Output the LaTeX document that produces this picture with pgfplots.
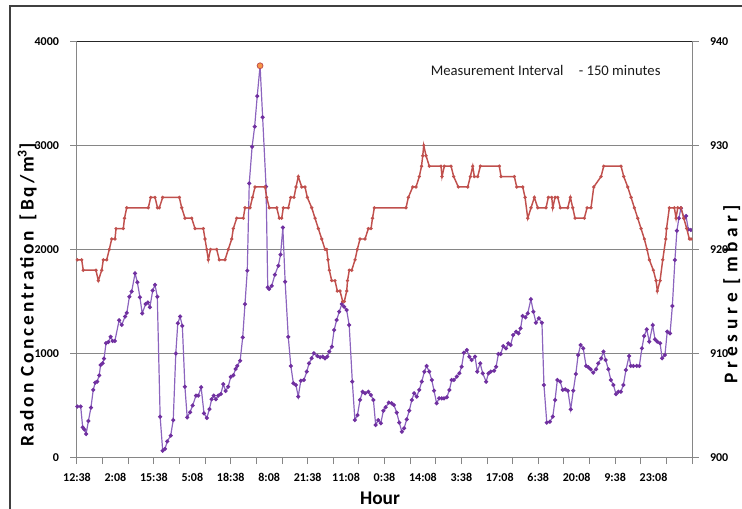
\documentclass[border=0pt]{standalone}
\usepackage{pgfplots}
\pgfplotsset{compat=1.18}
\usepackage{fontspec}
\setmainfont{Carlito}
\definecolor{gridgray}{RGB}{134,134,134}
\definecolor{radonline}{RGB}{140,100,190}
\definecolor{radonmark}{RGB}{112,48,160}
\definecolor{presred}{RGB}{192,80,77}
\definecolor{framegray}{RGB}{64,64,64}
\definecolor{peakorange}{RGB}{247,150,70}

\pgfplotsset{
  commonaxis/.style={
    scale only axis, width=461.25pt, height=312.15pt,
    at={(0,0)}, anchor=south west,
    xmin=0, xmax=216,
    tick align=outside,
    major tick length=5pt,
    tick style={gridgray, line width=0.75pt},
    axis line style={gridgray, line width=0.75pt},
    ticklabel style={font=\fontsize{9}{10}\selectfont\bfseries, text=black},
    /pgf/number format/assume math mode=true,
  }
}

\begin{document}
\begin{tikzpicture}
\begin{axis}[commonaxis,
  ymin=0, ymax=4000,
  axis x line*=bottom, axis y line*=left,
  ytick={0,1000,2000,3000,4000},
  ymajorgrids, grid style={gridgray, line width=0.75pt},
  yticklabel style={xshift=-5pt},
  xtick={0,9,...,216}, xticklabels={},
  extra x ticks={0,13.5,27,40.5,54,67.5,81,94.5,108,121.5,135,148.5,162,175.5,189,202.5},
  extra x tick labels={12:38,2:08,15:38,5:08,18:38,8:08,21:38,11:08,0:38,14:08,3:38,17:08,6:38,20:08,9:38,23:08},
  extra x tick style={major tick length=0pt, xticklabel style={yshift=-8pt}},
  scaled y ticks=false,
  yticklabel={\pgfmathprintnumber[fixed,precision=0,1000 sep={}]{\tick}},
]
\draw[black!85, line width=0.8pt] (axis cs:0,4000) -- (axis cs:216,4000);
\addplot[radonline, line width=0.9pt, mark=*, mark size=1.05pt, mark options={radonmark, fill=radonmark}] coordinates {
(0.1,490) (1.3,490) (2.0,290) (2.6,270) (3.2,226) (4.0,350) (4.9,480) (5.7,650) (6.4,720) (7.1,730) (7.8,790) (8.3,890) (9.0,905) (9.5,950) (10.2,1100) (11.0,1110) (11.8,1160) (12.5,1120) (13.3,1120) (14.8,1320) (15.7,1275) (16.9,1355) (17.5,1390) (18.4,1545) (19.2,1595) (20.4,1770) (21.2,1685) (22.1,1540) (22.9,1385) (24.1,1475) (24.9,1490) (25.6,1445) (26.6,1605) (27.4,1660) (28.2,1545) (29.2,392) (30.1,65) (30.9,82) (31.7,156) (32.9,210) (33.8,360) (34.7,1000) (35.4,1290) (36.2,1355) (37.0,1265) (37.9,680) (38.7,386) (39.7,435) (40.6,500) (41.8,595) (42.6,595) (43.6,675) (44.6,425) (45.6,380) (46.5,465) (47.3,560) (48.0,595) (48.8,560) (49.6,595) (50.5,610) (51.4,705) (52.2,640) (53.1,680) (54.0,775) (54.9,790) (55.7,850) (56.3,880) (57.3,930) (58.2,1155) (59.0,1475) (59.8,1795) (60.5,2635) (61.5,2987) (62.4,3180) (63.3,3474) (64.3,3765) (65.2,3270) (66.4,2603) (67.0,1636) (67.5,1620) (68.4,1650) (69.5,1757) (70.7,1843) (71.5,1950) (72.3,2210) (73.1,1690) (74.2,1160) (75.1,880) (76.0,713) (76.9,697) (77.7,585) (78.6,738) (79.7,745) (80.7,825) (81.5,905) (82.4,953) (83.2,1001) (84.4,975) (85.4,963) (86.3,969) (87.1,953) (87.9,969) (88.6,1017) (89.5,1065) (90.3,1225) (91.2,1321) (92.1,1401) (93.0,1475) (93.8,1449) (94.7,1418) (95.6,1273) (96.7,729) (97.6,360) (98.5,408) (99.4,553) (100.3,632) (101.2,617) (102.3,632) (103.2,600) (104.1,553) (104.9,312) (105.8,360) (106.7,329) (107.6,450) (108.4,482) (109.5,527) (110.5,521) (111.3,505) (112.3,431) (113.2,335) (114.1,248) (114.9,281) (115.8,367) (116.7,450) (117.6,553) (118.4,617) (119.3,585) (120.2,649) (121.1,729) (122.0,825) (122.8,880) (123.7,825) (124.6,745) (125.4,642) (126.3,521) (127.2,569) (128.1,569) (128.9,569) (129.9,579) (130.8,649) (131.6,745) (132.4,745) (133.4,777) (134.3,810) (135.1,873) (135.9,1007) (136.9,1033) (137.8,969) (138.6,937) (139.8,969) (140.6,825) (141.6,905) (142.5,809) (143.7,729) (144.5,809) (145.3,825) (146.5,834) (147.2,873) (148.0,995) (148.8,995) (149.7,1071) (150.7,1049) (151.5,1097) (152.3,1081) (153.2,1177) (154.2,1209) (155.1,1193) (155.8,1241) (156.5,1360) (157.5,1347) (158.3,1385) (159.4,1520) (160.3,1401) (161.2,1295) (162.2,1338) (163.3,1295) (164.0,697) (165.0,335) (166.1,344) (167.1,392) (167.9,553) (168.7,745) (169.7,729) (170.6,649) (171.5,655) (172.4,642) (173.4,463) (174.3,642) (175.2,803) (176.0,985) (176.9,1081) (177.8,1049) (178.8,880) (179.6,867) (180.4,848) (181.3,815) (182.3,848) (183.1,905) (184.1,953) (184.9,1017) (185.7,937) (186.6,848) (187.5,745) (188.4,697) (189.3,610) (190.1,632) (191.0,632) (191.9,697) (192.8,841) (193.9,975) (194.5,880) (195.4,880) (196.6,880) (197.5,880) (198.4,1049) (199.2,1168) (200.1,1232) (201.0,1113) (202.2,1273) (203.0,1136) (203.8,1113) (204.8,1097) (205.5,953) (206.5,985) (207.3,1209) (208.3,1193) (209.1,1456) (210.0,1898) (210.7,2180) (211.4,2300) (212.1,2395) (213.3,2299) (213.9,2321) (214.7,2193) (215.6,2187)
};
\addplot[only marks, mark=*, mark size=2.2pt, mark options={draw=presred, fill=peakorange, line width=0.6pt}] coordinates {(64.3,3765)};
\node[anchor=west, font=\fontsize{11}{12}\selectfont, text=black!90] at (axis cs:122.6,3715) {Measurement Interval\hspace{9pt} - 150 minutes};
\end{axis}

\begin{axis}[commonaxis,
  ymin=900, ymax=940,
  axis y line*=right, axis x line=none,
  ytick={900,910,920,930,940},
  yticklabel style={xshift=5pt},
]
\addplot[presred, line width=1.1pt, mark=*, mark size=0.6pt, mark options={presred}] coordinates {
(0.1,919) (1.65,919) (2.2,918) (6.67,918) (7.48,917) (8.68,918) (9.24,919) (10.43,919) (11.35,920) (12.19,921) (13.35,921) (13.7,922) (16.26,922) (16.68,923) (17.46,924) (25.04,924) (25.89,925) (27.4,925) (28.28,924) (28.91,924) (30.1,925) (35.93,925) (36.78,924) (37.93,923) (40.29,923) (41.45,922) (44.36,922) (44.96,921) (45.56,920) (46.12,919) (46.89,920) (49.07,920) (49.98,919) (51.98,919) (53.14,920) (54.34,921) (54.9,922) (56.09,923) (58.41,923) (59.01,924) (60.77,924) (61.64,925) (62.52,926) (66.03,926) (66.63,925) (67.54,924) (70.14,924) (71.06,923) (71.9,923) (72.46,924) (74.22,924) (75.06,925) (76.22,925) (76.92,926) (77.73,927) (78.93,926) (80.08,926) (80.89,925) (82.44,924) (83.6,923) (84.76,922) (85.95,921) (87.11,920) (87.71,920) (88.16,919) (88.62,918) (89.46,917) (90.62,917) (91.43,916) (92.38,916) (93.33,915) (93.89,915) (94.73,916) (95.01,917) (95.64,918) (96.49,918) (97.65,919) (98.45,920) (99.4,921) (101.16,921) (102.32,922) (103.27,922) (103.79,923) (104.43,924) (115.56,924) (116.37,925) (117.91,926) (119.07,926) (120.23,927) (121.0,928) (121.43,929) (121.78,930) (122.59,929) (123.74,928) (127.85,928) (128.2,927) (129.01,928) (131.37,928) (132.31,927) (133.93,926) (137.23,926) (138.15,927) (138.99,928) (139.55,927) (140.74,927) (141.66,928) (148.33,928) (148.93,927) (153.6,927) (154.44,926) (156.55,926) (157.36,925) (158.31,923) (159.47,924) (160.63,925) (161.82,924) (164.73,924) (165.54,925) (166.74,925) (167.09,924) (167.9,925) (168.84,925) (169.76,924) (172.36,924) (173.27,925) (174.11,924) (174.92,923) (178.19,923) (179.14,924) (180.54,924) (181.49,926) (184.05,927) (185.0,928) (191.08,928) (192.03,927) (193.43,926) (194.59,925) (195.75,924) (196.94,923) (198.1,922) (199.26,921) (200.21,920) (201.02,919) (202.42,918) (203.37,917) (203.83,916) (204.78,917) (205.72,919) (206.78,921) (207.06,922) (208.04,924) (209.8,924) (210.4,923) (210.99,924) (212.15,924) (213.1,923) (214.15,922) (215.07,921) (215.66,921)
};
\end{axis}

% chart frame
\draw[framegray, line width=1.1pt] (-50.25pt,-40pt) -- (-50.25pt,338.6pt) -- (500pt,338.6pt);
% axis titles
\node[rotate=90, anchor=base, font=\fontsize{14.5}{16}\selectfont\bfseries\addfontfeature{LetterSpace=15}] at (-32.6pt,121.9pt) {Radon Concentration\, [Bq/m$^{\mathbf{3}}$]};
\node[rotate=90, anchor=base, font=\fontsize{14.5}{16}\selectfont\bfseries\addfontfeature{LetterSpace=25}] at (495.3pt,122.6pt) {Presure [mbar]};
\node[anchor=base, font=\fontsize{14.5}{16}\selectfont\bfseries] at (227.25pt,-34.9pt) {Hour};
\pgfresetboundingbox
\path[use as bounding box] (-57.75pt,-37.875pt) rectangle (498.75pt,343.125pt);
\end{tikzpicture}
\end{document}
